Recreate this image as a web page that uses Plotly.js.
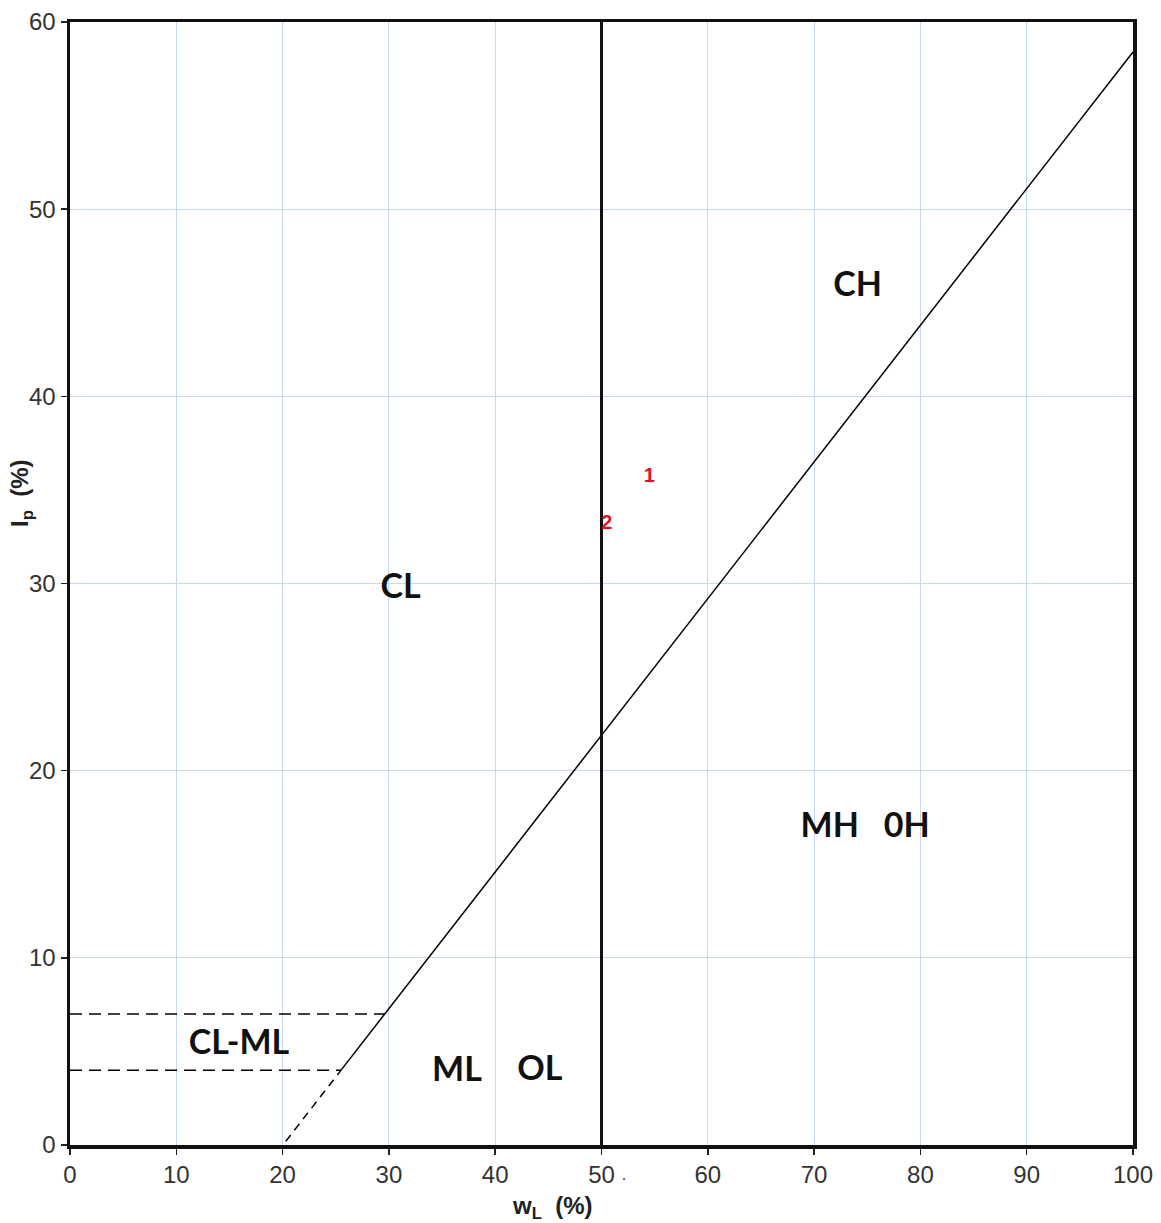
<!DOCTYPE html>
<html>
<head>
<meta charset="utf-8">
<script src="https://cdn.plot.ly/plotly-3.0.1.min.js"></script>
<style>html,body{margin:0;padding:0;background:#fff;}#chart{width:1161px;height:1223px;}</style>
</head>
<body>
<div id="chart"></div>
<script>
// A-line (solid part) and its dashed extension
const aLineX = [25.5, 100];
const aLineY = [4, 58.4];
const aDashX = [20.3, 25.5];
const aDashY = [0.2, 4];
// CL-ML band limits
const band7X = [0, 29.6];
const band7Y = [7, 7];
const band4X = [0, 25.5];
const band4Y = [4, 4];
// B-line wL = 50
const bLineX = [50, 50];
const bLineY = [0, 60];
// samples
const sampleX = [54.5, 50.5];
const sampleY = [35.7, 33.2];
const sampleLabels = ['1', '2'];
// zone labels
const zoneText = ['CH', 'CL', 'MH   0H', 'CL-ML', 'ML', 'OL'];
const zoneX = [74.1, 31.1, 74.8, 15.9, 36.4, 44.2];
const zoneY = [45.8, 29.7, 16.9, 5.3, 3.85, 3.95];
// ticks
const xTicks = [0, 10, 20, 30, 40, 50, 60, 70, 80, 90, 100];
const yTicks = [0, 10, 20, 30, 40, 50, 60];

const traces = [
  {x: aLineX, y: aLineY, mode: 'lines', line: {color: '#000', width: 1.5}, hoverinfo: 'skip'},
  {x: aDashX, y: aDashY, mode: 'lines', line: {color: '#000', width: 1.5, dash: '8px,6px'}, hoverinfo: 'skip'},
  {x: band7X, y: band7Y, mode: 'lines', line: {color: '#000', width: 1.5, dash: '12px,7px'}, hoverinfo: 'skip'},
  {x: band4X, y: band4Y, mode: 'lines', line: {color: '#000', width: 1.5, dash: '12px,7px'}, hoverinfo: 'skip'},
  {x: bLineX, y: bLineY, mode: 'lines', line: {color: '#111', width: 3}, hoverinfo: 'skip'},
  {x: sampleX, y: sampleY, mode: 'text', text: sampleLabels, textposition: 'middle center',
   textfont: {family: 'Liberation Sans, Arial, sans-serif', size: 20, color: '#e0141e', weight: 'bold'}},
  {x: zoneX, y: zoneY, mode: 'text', text: zoneText, textposition: 'middle center',
   textfont: {family: 'Lato, sans-serif', size: 34, color: '#111', weight: 'bold'}}
];

const axisCommon = {
  showgrid: true, gridcolor: '#c9d7ea', gridwidth: 1,
  zeroline: false, showline: true, linecolor: '#111', linewidth: 3.5, mirror: true,
  ticks: 'outside', ticklen: 6, tickwidth: 1.5, tickcolor: '#222',
  tickfont: {family: 'Liberation Sans, Arial, sans-serif', size: 24, color: '#333'}
};

const titleFont = {family: 'Liberation Sans, Arial, sans-serif', size: 24, color: '#222', weight: 'bold'};

const layout = {
  width: 1161, height: 1223,
  margin: {l: 70, r: 28, t: 22, b: 78},
  paper_bgcolor: '#fff', plot_bgcolor: '#fff',
  showlegend: false,
  xaxis: Object.assign({}, axisCommon, {
    range: [0, 100], tickvals: xTicks, ticktext: xTicks.map(String)
  }),
  yaxis: Object.assign({}, axisCommon, {
    range: [0, 60], tickvals: yTicks, ticktext: yTicks.map(String)
  }),
  annotations: [
    {xref: 'paper', yref: 'paper', x: (552 - 70) / 1063, y: -(1207 - 1145) / 1123,
     text: 'w<sub>L</sub>  (%)', showarrow: false, font: titleFont, xanchor: 'center', yanchor: 'middle'},
    {xref: 'paper', yref: 'paper', x: -(70 - 22) / 1063, y: (1145 - 493) / 1123,
     text: 'I<sub>p</sub>  (%)', showarrow: false, font: titleFont, textangle: -90, xanchor: 'center', yanchor: 'middle'},
    {xref: 'paper', yref: 'paper', x: (624 - 70) / 1063, y: -(1178 - 1145) / 1123,
     text: '·', showarrow: false, font: {family: 'Liberation Sans, Arial, sans-serif', size: 18, color: '#555'}, xanchor: 'center', yanchor: 'middle'}
  ]
};

Plotly.newPlot('chart', traces, layout, {displayModeBar: false, staticPlot: true});
</script>
</body>
</html>
